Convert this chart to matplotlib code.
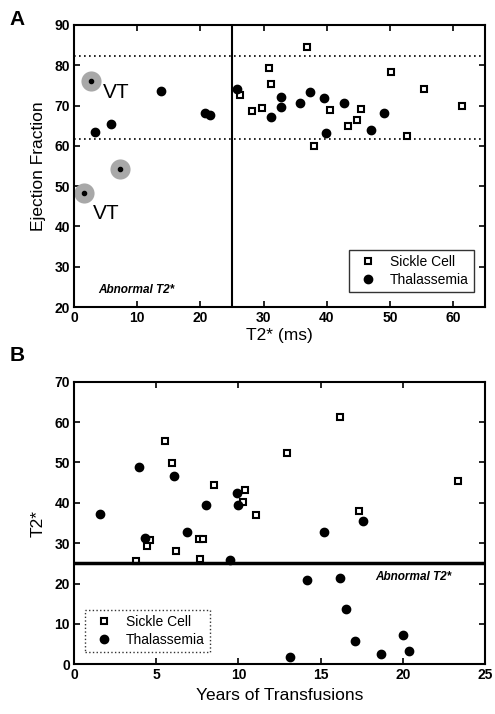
import numpy as np
import matplotlib.pyplot as plt

plt.rcParams['font.family'] = ['Liberation Sans', 'DejaVu Sans']

# Panel A: T2* vs ejection fraction
sc_t2 = [26.3, 28.1, 29.7, 30.9, 31.2, 36.9, 38.0, 40.5, 43.3, 44.7, 45.4, 50.2, 52.6, 55.3, 61.3]
sc_ef = [72.5, 68.7, 69.5, 79.4, 75.4, 84.5, 59.9, 69.0, 64.9, 66.3, 69.2, 78.3, 62.5, 74.0, 69.9]
th_t2 = [3.3, 5.9, 13.8, 20.7, 21.5, 25.8, 31.2, 32.7, 32.8, 35.8, 37.4, 39.6, 39.8, 42.7, 46.9, 49.1]
th_ef = [63.4, 65.5, 73.5, 68.2, 67.6, 74.0, 67.1, 72.1, 69.7, 70.6, 73.4, 71.9, 63.3, 70.6, 64.0, 68.2]
vt_t2 = [2.7, 7.2, 1.6]
vt_ef = [76.1, 54.2, 48.2]
ef_limits = [82.4, 61.6]

# Panel B: years of transfusions vs T2*
sc_years = [5.54, 5.98, 8.5, 10.4, 10.3, 11.05, 4.62, 4.46, 3.77, 6.2, 7.62, 7.87, 7.66, 16.18, 12.98, 23.34, 17.34]
sc_t2b = [55.4, 49.9, 44.5, 43.1, 40.3, 36.9, 30.8, 29.4, 25.6, 28.1, 31.0, 31.0, 26.1, 61.3, 52.4, 45.4, 38.0]
th_years = [3.97, 6.08, 9.9, 9.96, 8.0, 1.58, 6.9, 4.32, 9.49, 17.6, 15.23, 14.15, 16.2, 16.55, 17.09, 19.99, 18.7, 20.38, 13.14]
th_t2b = [48.9, 46.7, 42.5, 39.5, 39.4, 37.3, 32.7, 31.2, 25.8, 35.5, 32.7, 20.8, 21.4, 13.6, 5.8, 7.3, 2.6, 3.2, 1.8]

fig = plt.figure(figsize=(4.95, 7.14), dpi=100)
axA = fig.add_axes([0.1495, 0.570, 0.8303, 0.395])
axB = fig.add_axes([0.1495, 0.0696, 0.8303, 0.3958])

sq = dict(marker='s', ms=5, mfc='white', mec='black', mew=1.5, ls='none')
dot = dict(marker='o', ms=6, color='black', ls='none')

# --- A ---
axA.plot(vt_t2, vt_ef, 'o', ms=14.5, color='#a8a8a8', mec='none')
axA.plot(vt_t2, vt_ef, 'o', ms=3, color='black')
axA.plot(sc_t2, sc_ef, label='Sickle Cell', **sq)
axA.plot(th_t2, th_ef, label='Thalassemia', **dot)
for v in ef_limits:
    axA.axhline(v, color='black', ls=(0, (1, 2)), lw=1.2)
axA.axvline(25, color='black', lw=1.5)
axA.text(4.6, 73.2, 'VT', fontsize=15, va='center')
axA.text(3.0, 43.3, 'VT', fontsize=15, va='center')
axA.text(3.8, 24.3, 'Abnormal T2*', fontsize=8.5, style='italic', fontweight='bold', va='center')
axA.set_xlim(0, 65)
axA.set_ylim(20, 90)
axA.set_xticks([0, 10, 20, 30, 40, 50, 60])
axA.set_yticks(np.arange(20, 91, 10))
axA.set_xlabel('T2* (ms)', fontsize=12.5, labelpad=2)
axA.set_ylabel('Ejection Fraction', fontsize=12.5, labelpad=6)
legA = axA.legend(loc='lower right', fontsize=10, frameon=True, fancybox=False,
                  handletextpad=0.6, borderpad=0.35, labelspacing=0.3,
                  bbox_to_anchor=(0.99, 0.03))
legA.get_frame().set_edgecolor('black')
legA.get_frame().set_linewidth(1.0)
fig.text(0.02, 0.972, 'A', fontsize=15, fontweight='bold', va='center')

# --- B ---
axB.plot(sc_years, sc_t2b, label='Sickle Cell', **sq)
axB.plot(th_years, th_t2b, label='Thalassemia', **dot)
axB.axhline(25, color='black', lw=2.5)
axB.text(18.3, 21.6, 'Abnormal T2*', fontsize=8.5, style='italic', fontweight='bold', va='center')
axB.set_xlim(0, 25)
axB.set_ylim(0, 70)
axB.set_xticks([0, 5, 10, 15, 20, 25])
axB.set_yticks(np.arange(0, 71, 10))
axB.set_xlabel('Years of Transfusions', fontsize=12.5, labelpad=4)
axB.set_ylabel('T2*', fontsize=12.5, labelpad=6)
legB = axB.legend(loc='lower left', fontsize=10, frameon=True, fancybox=False,
                  handletextpad=0.6, borderpad=0.35, labelspacing=0.3,
                  bbox_to_anchor=(0.01, 0.02))
legB.get_frame().set_edgecolor('black')
legB.get_frame().set_linestyle(':')
legB.get_frame().set_linewidth(1.0)
fig.text(0.02, 0.502, 'B', fontsize=15, fontweight='bold', va='center')

for ax in (axA, axB):
    ax.tick_params(direction='in', top=True, right=True, length=4, width=1.2,
                   labelsize=10, pad=3)
    for lbl in ax.get_xticklabels() + ax.get_yticklabels():
        lbl.set_fontweight('bold')
    for s in ax.spines.values():
        s.set_linewidth(1.5)

fig.savefig('out.png', dpi=100)
